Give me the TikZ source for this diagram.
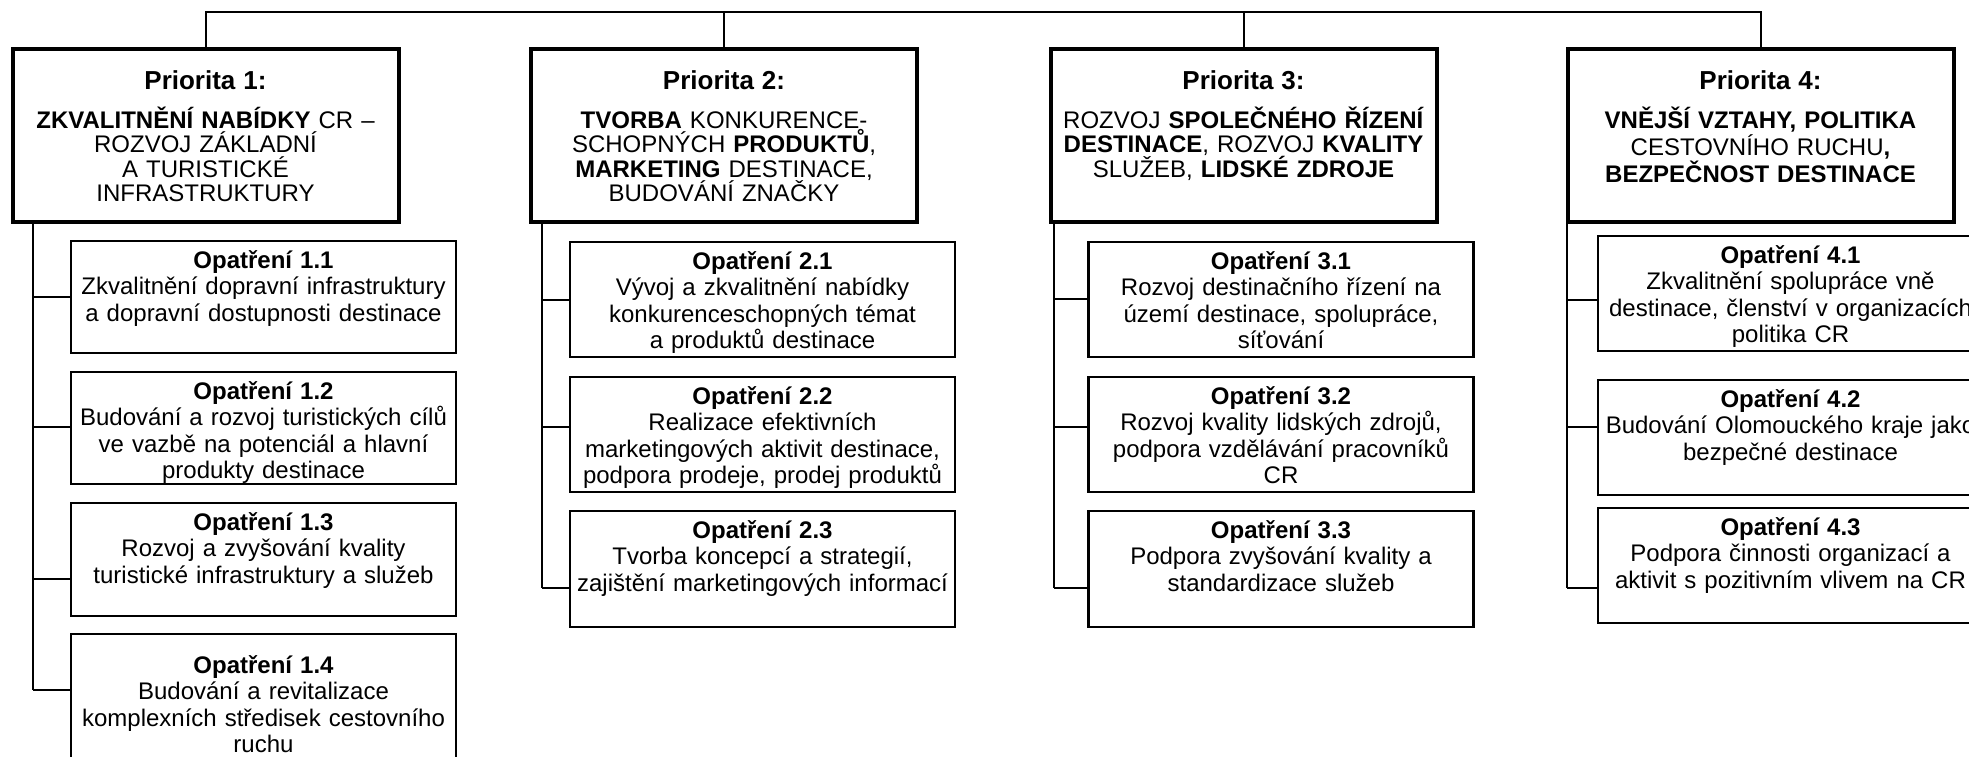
\documentclass[tikz,border=0pt]{standalone}
\usepackage{fontspec}
\setmainfont{Liberation Sans}
\usetikzlibrary{positioning}
\lineskiplimit=-100pt
\tikzset{
	prio/.style={draw, line width=2pt, inner sep=0pt, outer sep=0pt, anchor=north,
		text width=193pt, align=center, text height=20.25pt, text depth=66.25pt,
		font=\fontsize{12}{12.2}\selectfont},
	opbox/.style={draw, line width=1.2pt, inner sep=0pt, outer sep=0pt, anchor=north,
		text width=192.5pt, align=center, text height=13.5pt, text depth=#1,
		font=\fontsize{12}{13.3}\selectfont},
	opbox/.default=42.5pt,
	link/.style={line width=1pt}
}
\newcommand{\prionum}[1]{{\fontsize{13}{13}\selectfont\bfseries Priorita #1:}\\[7.3pt]}
\newcommand{\opnum}[1]{\textbf{Opatření #1}\\}

\begin{document}
\begin{tikzpicture}[x=0.5pt, y=-0.5pt]
	\useasboundingbox (0,0) rectangle (1969,756);
	\clip (0,0) rectangle (1969,756);
	
	\node[prio] (p1) at (205.5,49) {\prionum{1}\textbf{ZKVALITNĚNÍ NABÍDKY} CR –\\ROZVOJ ZÁKLADNÍ\\A TURISTICKÉ\\INFRASTRUKTURY};
	\node[prio] (p2) at (724,49) {\prionum{2}\textbf{TVORBA} KONKURENCE-\\SCHOPNÝCH \textbf{PRODUKTŮ},\\\textbf{MARKETING} DESTINACE,\\BUDOVÁNÍ ZNAČKY};
	\node[prio] (p3) at (1243.5,49) {\prionum{3}ROZVOJ \textbf{SPOLEČNÉHO ŘÍZENÍ}\\\textbf{DESTINACE}, ROZVOJ \textbf{KVALITY}\\SLUŽEB, \textbf{LIDSKÉ ZDROJE}};
	\node[prio] (p4) at (1760.5,49) {\prionum{4}\textbf{VNĚJŠÍ VZTAHY, POLITIKA}\\CESTOVNÍHO RUCHU\textbf{,}\\\textbf{BEZPEČNOST DESTINACE}};
	
	\node[opbox] (o11) at (263.5,241) {\opnum{1.1}Zkvalitnění dopravní infrastruktury\\a dopravní dostupnosti destinace};
	\node[opbox] (o12) at (263.5,372) {\opnum{1.2}Budování a rozvoj turistických cílů\\ve vazbě na potenciál a hlavní\\produkty destinace};
	\node[opbox=43pt] (o13) at (263.5,503) {\opnum{1.3}Rozvoj a zvyšování kvality\\turistické infrastruktury a služeb};
	\node[opbox=64pt, text height=19.5pt] (o14) at (263.5,634) {\opnum{1.4}Budování a revitalizace\\komplexních středisek cestovního\\ruchu};
	
	\node[opbox=44pt] (o21) at (762.5,242) {\opnum{2.1}Vývoj a zkvalitnění nabídky\\konkurenceschopných témat\\a produktů destinace};
	\node[opbox=44pt] (o22) at (762.5,377) {\opnum{2.2}Realizace efektivních\\marketingových aktivit destinace,\\podpora prodeje, prodej produktů};
	\node[opbox=44.5pt] (o23) at (762.5,511) {\opnum{2.3}Tvorba koncepcí a strategií,\\zajištění marketingových informací};
	
	\node[opbox=44pt] (o31) at (1281,242) {\opnum{3.1}Rozvoj destinačního řízení na\\území destinace, spolupráce,\\síťování};
	\node[opbox=44pt] (o32) at (1281,377) {\opnum{3.2}Rozvoj kvality lidských zdrojů,\\podpora vzdělávání pracovníků\\CR};
	\node[opbox=44.5pt] (o33) at (1281,511) {\opnum{3.3}Podpora zvyšování kvality a\\standardizace služeb};
	
	\node[opbox=44pt] (o41) at (1790.5,236) {\opnum{4.1}Zkvalitnění spolupráce vně\\destinace, členství v organizacích\\politika CR};
	\node[opbox=44pt] (o42) at (1790.5,380) {\opnum{4.2}Budování Olomouckého kraje jako\\bezpečné destinace};
	\node[opbox=44pt] (o43) at (1790.5,508) {\opnum{4.3}Podpora činnosti organizací a\\aktivit s pozitivním vlivem na CR};
	
	% horni sbernice
	\coordinate (bus) at (0,12);
	\draw[link] (p1.north) -- (p1.north |- bus) -- (p4.north |- bus) -- (p4.north);
	\draw[link] (p2.north) -- (p2.north |- bus);
	\draw[link] (p3.north) -- (p3.north |- bus);
	
	% odbocky k opatrenim
	\coordinate (j11) at (33,297);
	\coordinate (j12) at (33,427);
	\coordinate (j13) at (33,579);
	\coordinate (j14) at (33,690);
	\coordinate (j21) at (542,300);
	\coordinate (j22) at (542,427);
	\coordinate (j23) at (542,588);
	\coordinate (j31) at (1054,299);
	\coordinate (j32) at (1054,427);
	\coordinate (j33) at (1054,588);
	\coordinate (j41) at (1567,300);
	\coordinate (j42) at (1567,427);
	\coordinate (j43) at (1567,588);
	
	\draw[link] (j11 |- p1.south) -- (j14);
	\draw[link] (j21 |- p2.south) -- (j23);
	\draw[link] (j31 |- p3.south) -- (j33);
	\draw[link] (j41 |- p4.south) -- (j43);
	
	\draw[link] (j11) -- (j11 -| o11.west);
	\draw[link] (j12) -- (j12 -| o12.west);
	\draw[link] (j13) -- (j13 -| o13.west);
	\draw[link] (j14) -- (j14 -| o14.west);
	\draw[link] (j21) -- (j21 -| o21.west);
	\draw[link] (j22) -- (j22 -| o22.west);
	\draw[link] (j23) -- (j23 -| o23.west);
	\draw[link] (j31) -- (j31 -| o31.west);
	\draw[link] (j32) -- (j32 -| o32.west);
	\draw[link] (j33) -- (j33 -| o33.west);
	\draw[link] (j41) -- (j41 -| o41.west);
	\draw[link] (j42) -- (j42 -| o42.west);
	\draw[link] (j43) -- (j43 -| o43.west);
\end{tikzpicture}
\end{document}
